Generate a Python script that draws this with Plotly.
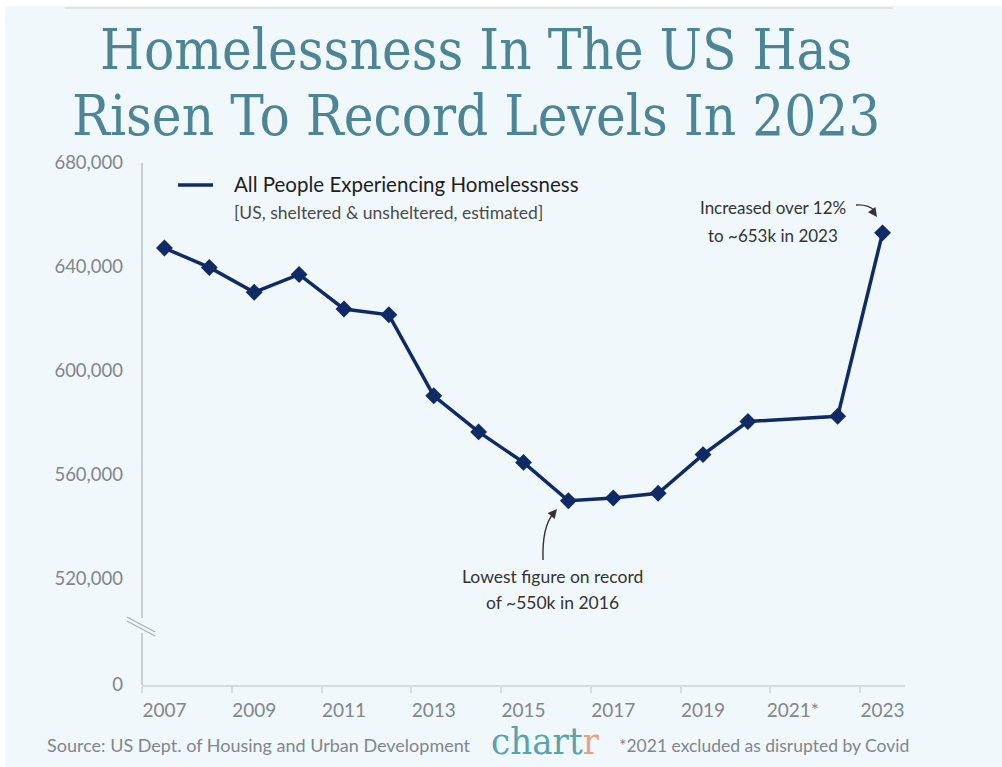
import plotly.graph_objects as go

# Annual point-in-time estimates of people experiencing homelessness (US)
years = [2007, 2008, 2009, 2010, 2011, 2012, 2013, 2014, 2015, 2016,
         2017, 2018, 2019, 2020, 2022, 2023]
people = [647258, 639784, 630227, 637077, 623788, 621553, 590364, 576450,
          564708, 549928, 550996, 552830, 567715, 580466, 582462, 653104]

x_tick_vals = [2007, 2009, 2011, 2013, 2015, 2017, 2019, 2021, 2023]
x_tick_text = ["2007", "2009", "2011", "2013", "2015", "2017", "2019", "2021*", "2023"]
x_minor_vals = [2006.5, 2008.5, 2010.5, 2012.5, 2014.5, 2016.5, 2018.5, 2020.5, 2022.5]

# broken value axis: the bottom tick stands in for zero
y_tick_vals = [479000, 520000, 560000, 600000, 640000, 680000]
y_tick_text = ["0", "520,000", "560,000", "600,000", "640,000", "680,000"]
y_break = (499000, 504800)

NAVY = "#0f2a64"
TEAL = "#4c8595"
BG = "#f1f8fb"
AXIS = "#c9ced1"
GREY_TXT = "#80868a"
SANS = "Lato, 'Open Sans', sans-serif"
SLAB = "'DejaVu Serif Condensed', 'DejaVu Serif', serif"

W_FIG, H_FIG = 1002, 767
L, T, PW, PH = 142, 163, 763, 522


def px(x):
    return (x - L) / PW


def py(y):
    return (T + PH - y) / PH


fig = go.Figure()
fig.add_trace(go.Scatter(
    x=years, y=people, mode="lines+markers",
    line=dict(color=NAVY, width=3.5),
    marker=dict(symbol="diamond", size=13, color=NAVY, line=dict(width=0)),
    showlegend=False, hoverinfo="x+y",
))

shapes = [
    # white frame strips and faint rule at the top
    dict(type="rect", xref="paper", yref="paper", x0=px(0), x1=px(W_FIG), y0=py(6), y1=py(0),
         fillcolor="white", line=dict(width=0), layer="below"),
    dict(type="rect", xref="paper", yref="paper", x0=px(0), x1=px(5), y0=py(H_FIG), y1=py(0),
         fillcolor="white", line=dict(width=0), layer="below"),
    dict(type="line", xref="paper", yref="paper", x0=px(65), x1=px(893), y0=py(8), y1=py(8),
         line=dict(color="#dfe4e7", width=2)),
    # value axis drawn in two pieces around the break
    dict(type="line", xref="paper", yref="y", x0=0, x1=0, y0=y_break[1], y1=680000,
         line=dict(color=AXIS, width=2)),
    dict(type="line", xref="paper", yref="y", x0=0, x1=0, y0=479000, y1=y_break[0],
         line=dict(color=AXIS, width=2)),
    dict(type="line", xref="paper", yref="paper", x0=px(127), x1=px(155), y0=py(617), y1=py(632),
         line=dict(color="#a9afb3", width=1.2)),
    dict(type="line", xref="paper", yref="paper", x0=px(127), x1=px(155), y0=py(621), y1=py(636),
         line=dict(color="#a9afb3", width=1.2)),
    # legend swatch
    dict(type="line", xref="paper", yref="paper", x0=px(178), x1=px(213), y0=py(185), y1=py(185),
         line=dict(color=NAVY, width=3.5)),
    # curved callout arrows
    dict(type="path", xref="paper", yref="paper",
         path=f"M {px(856)} {py(205)} Q {px(868)} {py(204)} {px(875)} {py(211)}",
         line=dict(color="#333333", width=1.4)),
    dict(type="path", xref="paper", yref="paper",
         path=f"M {px(543)} {py(560)} Q {px(542)} {py(527)} {px(553)} {py(514)}",
         line=dict(color="#333333", width=1.4)),
]

annotations = [
    dict(text="Homelessness In The US Has", x=px(476), y=py(50), xref="paper", yref="paper",
         xanchor="center", yanchor="middle", showarrow=False,
         font=dict(family=SLAB, size=56, color=TEAL)),
    dict(text="Risen To Record Levels In 2023", x=px(476), y=py(116), xref="paper", yref="paper",
         xanchor="center", yanchor="middle", showarrow=False,
         font=dict(family=SLAB, size=56, color=TEAL)),
    dict(text="All People Experiencing Homelessness", x=px(232), y=py(184), xref="paper", yref="paper",
         xanchor="left", yanchor="middle", showarrow=False,
         font=dict(family=SANS, size=20.5, color="#1e1e1e")),
    dict(text="[US, sheltered & unsheltered, estimated]", x=px(232), y=py(212), xref="paper", yref="paper",
         xanchor="left", yanchor="middle", showarrow=False,
         font=dict(family=SANS, size=17.5, color="#4a4a4a")),
    dict(text="Increased over 12%", x=px(773), y=py(208), xref="paper", yref="paper",
         xanchor="center", yanchor="middle", showarrow=False,
         font=dict(family=SANS, size=17, color="#333333")),
    dict(text="to ~653k in 2023", x=px(773), y=py(236), xref="paper", yref="paper",
         xanchor="center", yanchor="middle", showarrow=False,
         font=dict(family=SANS, size=17, color="#333333")),
    dict(text="Lowest figure on record", x=px(552), y=py(576), xref="paper", yref="paper",
         xanchor="center", yanchor="middle", showarrow=False,
         font=dict(family=SANS, size=17.5, color="#333333")),
    dict(text="of ~550k in 2016", x=px(552), y=py(602), xref="paper", yref="paper",
         xanchor="center", yanchor="middle", showarrow=False,
         font=dict(family=SANS, size=17.5, color="#333333")),
    # arrowheads at the ends of the curved callouts
    dict(text="", x=px(877), y=py(217), xref="paper", yref="paper", ax=-5, ay=-7,
         showarrow=True, arrowhead=2, arrowsize=1.3, arrowwidth=1.4, arrowcolor="#333333"),
    dict(text="", x=px(557), y=py(509), xref="paper", yref="paper", ax=-5, ay=6,
         showarrow=True, arrowhead=2, arrowsize=1.3, arrowwidth=1.4, arrowcolor="#333333"),
    # footer
    dict(text="Source: US Dept. of Housing and Urban Development", x=px(45), y=py(745),
         xref="paper", yref="paper", xanchor="left", yanchor="middle", showarrow=False,
         font=dict(family=SANS, size=18, color=GREY_TXT)),
    dict(text="chart<span style='color:#e7a38a'>r</span>", x=px(545), y=py(741),
         xref="paper", yref="paper", xanchor="center", yanchor="middle", showarrow=False,
         font=dict(family=SLAB, size=38, color="#5aa3ad")),
    dict(text="*2021 excluded as disrupted by Covid", x=px(617), y=py(745),
         xref="paper", yref="paper", xanchor="left", yanchor="middle", showarrow=False,
         font=dict(family=SANS, size=17.5, color=GREY_TXT)),
]

fig.update_layout(
    width=W_FIG, height=H_FIG,
    margin=dict(l=L, r=W_FIG - L - PW, t=T, b=H_FIG - T - PH, pad=0),
    paper_bgcolor=BG, plot_bgcolor=BG,
    shapes=shapes, annotations=annotations,
    showlegend=False,
    xaxis=dict(
        range=[2006.5, 2023.5], tickmode="array", tickvals=x_tick_vals, ticktext=x_tick_text,
        showgrid=False, zeroline=False, showline=True, linecolor="#d6dbde", linewidth=1.5,
        ticks="", ticklabelstandoff=7,
        tickfont=dict(family=SANS, size=19, color=GREY_TXT),
        minor=dict(tickmode="array", tickvals=x_minor_vals, ticks="outside", ticklen=6,
                   tickcolor="#d6dbde", tickwidth=1.5, showgrid=False),
        fixedrange=True,
    ),
    yaxis=dict(
        range=[479000, 680000], tickmode="array", tickvals=y_tick_vals, ticktext=y_tick_text,
        showgrid=False, zeroline=False, showline=False, ticks="", ticklabelstandoff=18,
        tickfont=dict(family=SANS, size=18.5, color=GREY_TXT),
        fixedrange=True,
    ),
)

fig.write_html("out.html")
